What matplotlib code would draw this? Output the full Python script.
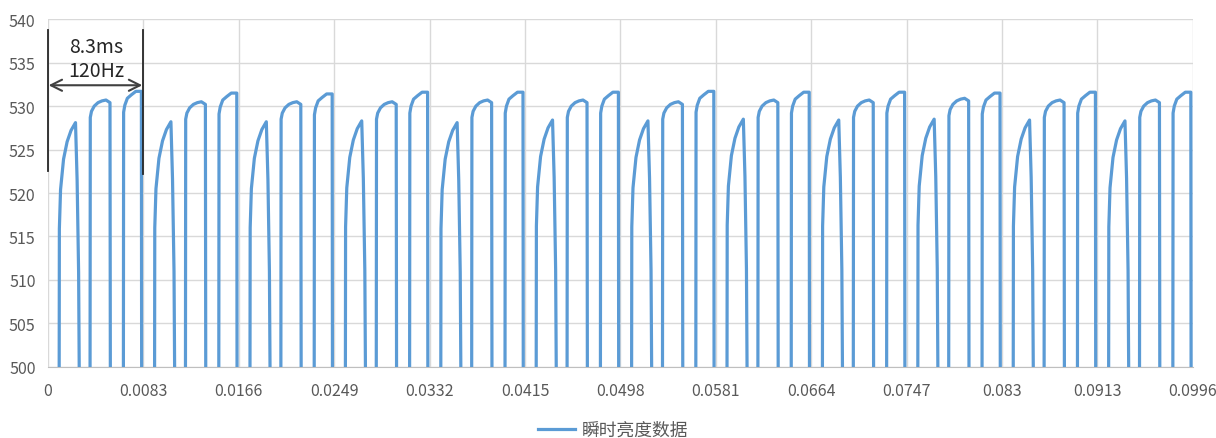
import matplotlib
matplotlib.use("Agg")
import matplotlib.pyplot as plt

plt.rcParams['font.family'] = ['Noto Sans CJK SC', 'DejaVu Sans']

# tick positions (s) and labels of the x axis
x_ticks = [0, 0.0083, 0.0166, 0.0249, 0.0332, 0.0415, 0.0498,
           0.0581, 0.0664, 0.0747, 0.083, 0.0913, 0.0996]
x_labels = ['0', '0.0083', '0.0166', '0.0249', '0.0332', '0.0415', '0.0498',
            '0.0581', '0.0664', '0.0747', '0.083', '0.0913', '0.0996']
y_ticks = [500, 505, 510, 515, 520, 525, 530, 535, 540]

# start of each 8.3ms period
period_start = [0, 0.0083, 0.0166, 0.0249, 0.0332, 0.0415,
                0.0498, 0.0581, 0.0664, 0.0747, 0.083, 0.0913]

# peak brightness of the three pulses in every period
low_peak = [528.1, 528.2, 528.2, 528.3, 528.1, 528.4,
            528.3, 528.5, 528.4, 528.5, 528.4, 528.3]
mid_peak = [530.7, 530.5, 530.5, 530.5, 530.7, 530.7,
            530.5, 530.7, 530.7, 530.9, 530.7, 530.7]
high_peak = [531.7, 531.5, 531.4, 531.6, 531.6, 531.6,
             531.7, 531.6, 531.6, 531.5, 531.6, 531.6]

# brightness while the light is off (below the visible range)
off_level = 490

# pulse shapes: time after rise (s) and brightness
low_t = [0, 0.000026, 0.00013, 0.00039, 0.0007, 0.00104, 0.00143, 0.00157, 0.0017, 0.0018]
low_v = [off_level, 516.0, 520.5, 524.0, 526.0, 527.3, 528.2, 521.6, 511.0, off_level]
mid_t = [0, 0.000026, 0.00013, 0.00037, 0.0007, 0.00104, 0.00139, 0.00174, 0.00178]
mid_v = [off_level, 528.6, 529.3, 529.9, 530.3, 530.5, 530.6, 530.3, off_level]
high_t = [0, 0.000026, 0.00013, 0.00035, 0.0007, 0.00109, 0.00157, 0.0016]
high_v = [off_level, 529.2, 530.0, 530.8, 531.2, 531.6, 531.6, off_level]

# when each pulse rises, measured from the period start
low_on, mid_on, high_on = 0.00096, 0.00365, 0.00655

xs = [0.0]
ys = [off_level]
for k, t0 in enumerate(period_start):
    for on, st, sv, pk in ((low_on, low_t, low_v, low_peak[k]),
                           (mid_on, mid_t, mid_v, mid_peak[k]),
                           (high_on, high_t, high_v, high_peak[k])):
        shift = pk - max(sv)
        for dt, v in zip(st, sv):
            xs.append(t0 + on + dt)
            ys.append(v if v == off_level else v + shift)

fig = plt.figure(figsize=(12.16, 4.39), dpi=100)
ax = fig.add_axes([0.0395, 0.162, 0.9415, 0.792])

line, = ax.plot(xs, ys, color='#5B9BD5', linewidth=2.3, label='瞬时亮度数据')

ax.set_xlim(0, 0.0996)
ax.set_ylim(500, 540)
ax.set_xticks(x_ticks)
ax.set_xticklabels(x_labels)
ax.set_yticks(y_ticks)
ax.grid(True, color='#D9D9D9', linewidth=1.0)
ax.set_axisbelow(True)
for s in ['top', 'right', 'left']:
    ax.spines[s].set_visible(False)
ax.spines['bottom'].set_color('#BFBFBF')
ax.spines['bottom'].set_zorder(0.5)
ax.tick_params(length=0, labelsize=11.5, colors='#595959')
ax.tick_params(axis='x', pad=11)
ax.tick_params(axis='y', pad=9)

# 8.3ms / 120Hz marker
ax.plot([0, 0], [522.5, 538.7], color='#262626', linewidth=1.3, clip_on=False)
ax.plot([0.0083, 0.0083], [522.2, 538.7], color='#262626', linewidth=1.3)
ax.annotate('', xy=(0.00005, 532.4), xytext=(0.0082, 532.4),
            arrowprops=dict(arrowstyle='<->', color='#404040', lw=1.5,
                            shrinkA=0, shrinkB=0, mutation_scale=20))
ax.text(0.0042, 536.9, '8.3ms', ha='center', va='center', fontsize=14, color='#262626')
ax.text(0.0042, 534.1, '120Hz', ha='center', va='center', fontsize=14, color='#262626')

fig.legend(handles=[line], loc='center', bbox_to_anchor=(0.504, 0.018),
           frameon=False, fontsize=12.8, handlelength=2.1, handletextpad=0.35,
           labelcolor='#595959')

fig.savefig('out.png', dpi=100)
